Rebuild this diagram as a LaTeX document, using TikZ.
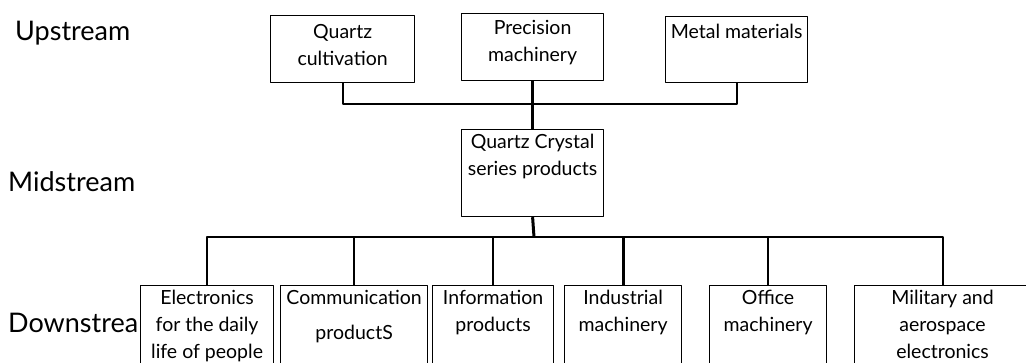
\documentclass[tikz,border=0pt]{standalone}
\usepackage{fontspec}
\setmainfont{Lato}
\tikzset{
  every picture/.style={line join=round, line cap=round},
  box/.style={draw, line width=1.2pt, fill=white, inner sep=0pt, anchor=north west},
  boxtext/.style={anchor=north, align=center, inner sep=2pt,
    font=\fontsize{19.5}{27}\selectfont},
  stage/.style={anchor=west, inner sep=0pt, font=\fontsize{27}{32}\selectfont},
  link/.style={line width=1.8pt, line cap=butt},
  fat link/.style={line width=3pt, line cap=butt},
}

\begin{document}
\begin{tikzpicture}[x=1pt,y=-1pt]
\useasboundingbox (0,0) rectangle (1026,363);
\clip (0,0) rectangle (1026,363);

% stages
\node[stage] (up) at (15,33) {Upstream};
\node[stage] (mid) at (8,182) {Midstream};
\node[stage] (down) at (8,323) {Downstream};

% upstream
\node[box, minimum width=144pt, minimum height=67pt] (qc) at (270,15) {};
\node[box, minimum width=142pt, minimum height=67pt] (pm) at (461,13) {};
\node[box, minimum width=142pt, minimum height=66pt] (mm) at (665,16) {};
\node[boxtext] at ([yshift=-7pt]qc.north) {Quartz\\cultivation};
\node[boxtext] at ([yshift=-5pt]pm.north) {Precision\\machinery};
\node[boxtext] at ([yshift=-6pt]mm.north) {Metal materials};

% midstream
\node[box, minimum width=142pt, minimum height=87pt] (qcs) at (461,129) {};
\node[boxtext] at ([yshift=-3pt]qcs.north) {Quartz Crystal\\series products};

% downstream
\node[box, minimum width=133pt, minimum height=100pt] (el) at (140,285) {};
\node[box, minimum width=147pt, minimum height=100pt] (cp) at (280,285) {};
\node[box, minimum width=121pt, minimum height=100pt] (ip) at (432,285) {};
\node[box, minimum width=117pt, minimum height=100pt] (im) at (564,285) {};
\node[box, minimum width=117pt, minimum height=100pt] (om) at (709,285) {};
\node[box, minimum width=176pt, minimum height=100pt] (ml) at (854,285) {};
\node[boxtext] at ([yshift=-3pt]el.north) {Electronics\\for the daily\\life of people};
\node[boxtext] at ([yshift=-3pt]cp.north) {Communication\\[8pt]productS};
\node[boxtext] at ([yshift=-3pt]ip.north) {Information\\products};
\node[boxtext] at ([yshift=-3pt]im.north) {Industrial\\machinery};
\node[boxtext] at ([yshift=-3pt]om.north) {Office\\machinery};
\node[boxtext] at ([yshift=-3pt]ml.north) {Military and\\aerospace\\electronics};

% connectors
\coordinate (upbus) at (534,104);
\coordinate (lowbus) at (534,237);
\draw[link] (qc.south) |- (upbus) -| (mm.south);
\draw[fat link] (pm.south) -- (qcs.north);
\draw[fat link] (qcs.south) -- (lowbus);
\draw[link] (el.north) |- (lowbus) -| (ml.north);
\foreach \n in {cp,ip,om}
  \draw[link] (\n.north) -- (\n.north |- lowbus);
\draw[fat link] (im.north) -- (im.north |- lowbus);
\end{tikzpicture}
\end{document}
